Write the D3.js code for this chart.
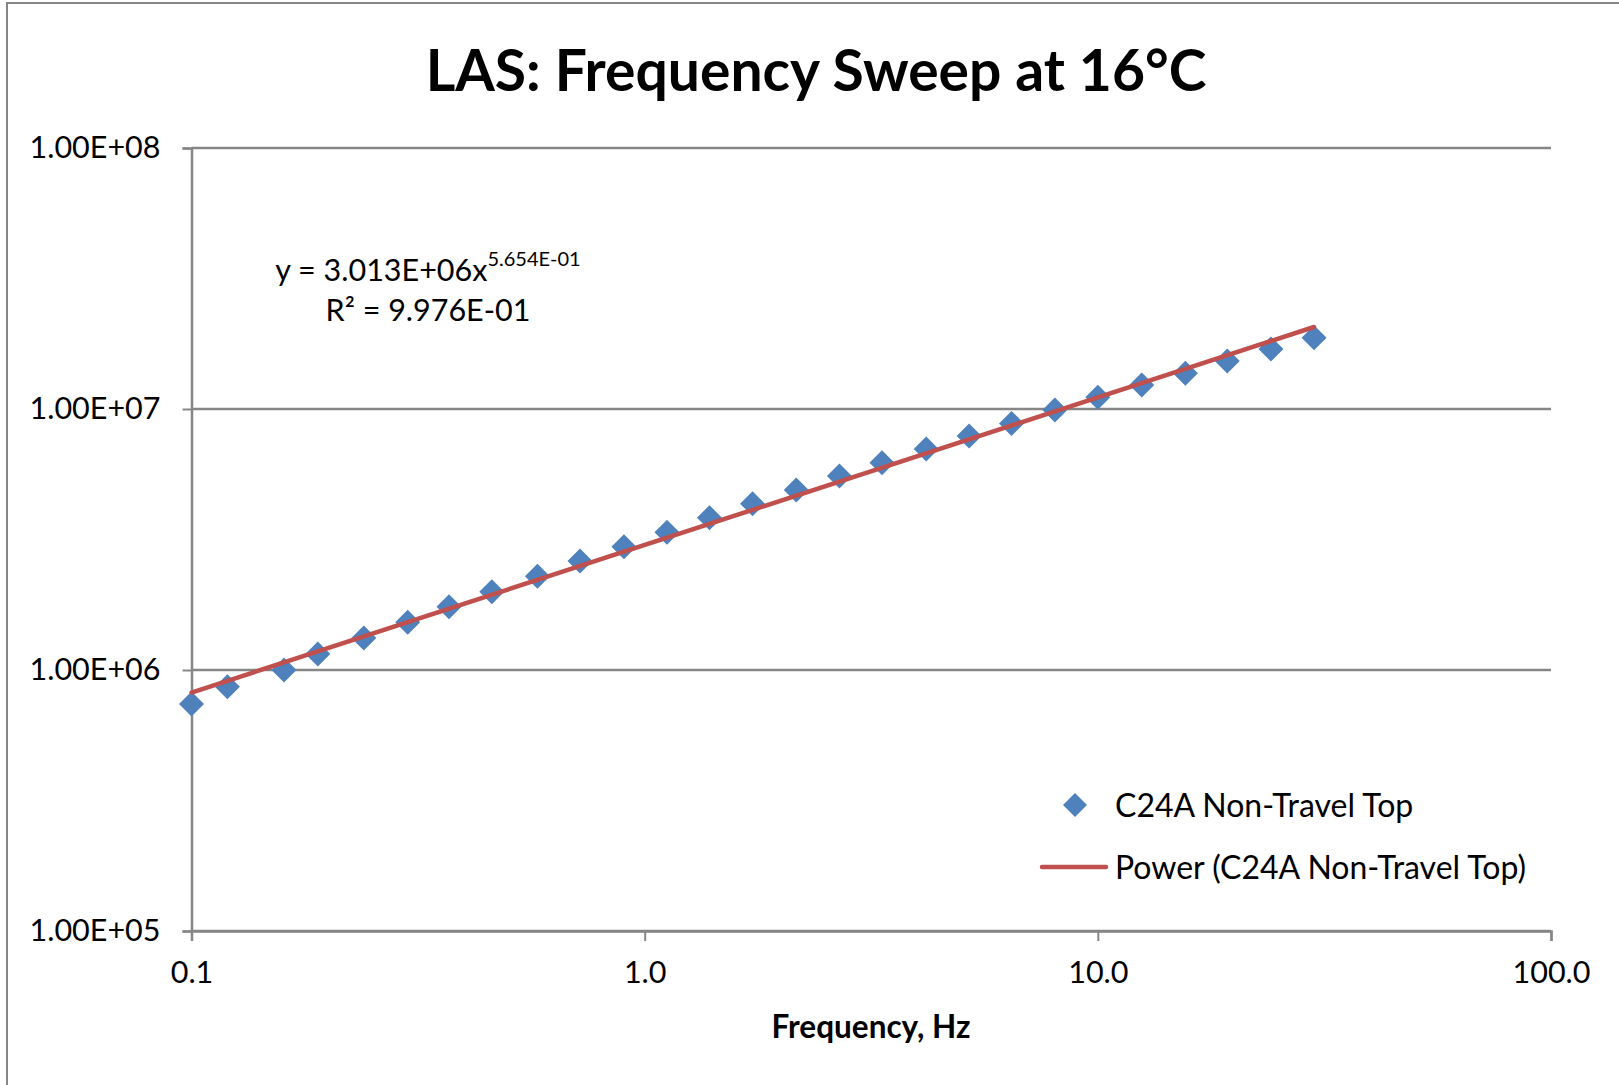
<!DOCTYPE html>
<html>
<head>
<meta charset="utf-8">
<script src="https://cdn.jsdelivr.net/npm/d3@7"></script>
<style>
  body { margin: 0; background: #fff; }
  text { font-family: Lato, "Open Sans", sans-serif; fill: #000; }
</style>
</head>
<body>
<div id="chart"></div>
<script>
// data
var freq = [0.1, 0.12, 0.16, 0.19, 0.24, 0.30, 0.37, 0.46, 0.58, 0.72, 0.90,
            1.12, 1.39, 1.73, 2.16, 2.69, 3.34, 4.18, 5.20, 6.45, 8.04,
            10.0, 12.5, 15.6, 19.3, 24.1, 30.0];
var modulus = [7.41e5, 8.63e5, 1.00e6, 1.152e6, 1.326e6, 1.523e6, 1.748e6, 1.995e6, 2.286e6, 2.616e6, 2.968e6,
               3.37e6, 3.832e6, 4.337e6, 4.895e6, 5.538e6, 6.228e6, 7.027e6, 7.88e6, 8.808e6, 9.91e6,
               1.109e7, 1.236e7, 1.370e7, 1.527e7, 1.698e7, 1.876e7];
var xTicks = [0.1, 1, 10, 100];
var yTicks = [1e5, 1e6, 1e7, 1e8];
var seriesName = "C24A Non-Travel Top";
var trendName = "Power (C24A Non-Travel Top)";
// power trendline coefficients as printed on the chart
var fitA = 3.013e6, fitB = 0.5654, fitR2 = 0.9976;

var W = 1619, H = 1085;
var margin = {top: 148, right: 68, bottom: 154, left: 191.5},
    width = W - margin.left - margin.right,
    height = H - margin.top - margin.bottom;

var grey = "#868686", blue = "#4F81BD", red = "#C0504D";

var svg = d3.select("#chart").append("svg")
    .attr("width", W)
    .attr("height", H);

// outer chart frame
svg.append("rect")
    .attr("x", 7).attr("y", 3)
    .attr("width", W + 20).attr("height", H + 20)
    .attr("fill", "#fff")
    .attr("stroke", grey)
    .attr("stroke-width", 2);

var g = svg.append("g")
    .attr("transform", "translate(" + margin.left + "," + margin.top + ")");

var x = d3.scaleLog().domain([0.1, 100]).range([0, width]);
var y = d3.scaleLog().domain([1e5, 1e8]).range([height, 0]);

// title
svg.append("text")
    .attr("x", 816)
    .attr("y", 91)
    .attr("text-anchor", "middle")
    .style("font-size", "57px")
    .style("font-weight", "bold")
    .text("LAS: Frequency Sweep at 16\u00B0C");

// gridlines
g.selectAll(".grid")
    .data(yTicks)
  .enter().append("line")
    .attr("class", "grid")
    .attr("x1", 0).attr("x2", width)
    .attr("y1", function(d){ return y(d); })
    .attr("y2", function(d){ return y(d); })
    .attr("stroke", grey)
    .attr("stroke-width", 2.5);

// axes
var xAxis = d3.axisBottom(x)
    .tickValues(xTicks)
    .tickSize(10)
    .tickPadding(20)
    .tickFormat(d3.format(".1f"));
var yAxis = d3.axisLeft(y)
    .tickValues(yTicks)
    .tickSize(9)
    .tickPadding(22)
    .tickFormat(function(d){
      var e = Math.round(Math.log10(d));
      return "1.00E+" + (e < 10 ? "0" + e : e);
    });

var gx = g.append("g")
    .attr("transform", "translate(0," + height + ")")
    .call(xAxis);
var gy = g.append("g").call(yAxis);

[gx, gy].forEach(function(a){
  a.select(".domain").attr("stroke", grey).attr("stroke-width", 2.5);
  a.selectAll(".tick line").attr("stroke", grey).attr("stroke-width", 2);
  a.selectAll(".tick text")
    .style("font-size", "30.5px")
    .style("font-family", "Lato, 'Open Sans', sans-serif")
    .attr("fill", "#000");
});
gx.selectAll(".tick text").attr("dy", "0.71em");

// x axis title
svg.append("text")
    .attr("x", 871)
    .attr("y", 1038)
    .attr("text-anchor", "middle")
    .style("font-size", "31.5px")
    .style("font-weight", "bold")
    .text("Frequency, Hz");

// trendline
var xMin = d3.min(freq), xMax = d3.max(freq);
var line = d3.line()
    .x(function(d){ return x(d); })
    .y(function(d){ return y(fitA * Math.pow(d, fitB)); });

// diamond markers
function diamond(r){
  return "M0," + (-r) + "L" + r + ",0L0," + r + "L" + (-r) + ",0Z";
}
var pts = freq.map(function(f, i){ return {f: f, v: modulus[i]}; });
g.selectAll(".point")
    .data(pts)
  .enter().append("path")
    .attr("class", "point")
    .attr("d", diamond(12.5))
    .attr("transform", function(d){ return "translate(" + x(d.f) + "," + y(d.v) + ")"; })
    .attr("fill", blue);

// trendline drawn on top of the markers
g.append("path")
    .datum([xMin, xMax])
    .attr("d", line)
    .attr("fill", "none")
    .attr("stroke", red)
    .attr("stroke-width", 4.5)
    .attr("stroke-linecap", "round");

// trendline equation
var eq = svg.append("text")
    .attr("x", 428)
    .attr("y", 281)
    .attr("text-anchor", "middle")
    .style("font-size", "30.5px");
eq.append("tspan").text("y = " + fitA.toExponential(3).toUpperCase().replace("E+", "E+0") + "x");
eq.append("tspan")
    .attr("dy", -15)
    .style("font-size", "20px")
    .text(fitB.toExponential(3).toUpperCase().replace("E-", "E-0"));
svg.append("text")
    .attr("x", 428)
    .attr("y", 321)
    .attr("text-anchor", "middle")
    .style("font-size", "30.5px")
    .text("R\u00B2 = " + fitR2.toExponential(3).toUpperCase().replace("E-", "E-0"));

// legend
var lg = svg.append("g");
lg.append("path")
    .attr("d", diamond(12))
    .attr("transform", "translate(1075,805)")
    .attr("fill", blue);
lg.append("text")
    .attr("x", 1115).attr("y", 817)
    .style("font-size", "32px")
    .text(seriesName);
lg.append("line")
    .attr("x1", 1042).attr("x2", 1106)
    .attr("y1", 867).attr("y2", 867)
    .attr("stroke", red)
    .attr("stroke-width", 4.5)
    .attr("stroke-linecap", "round");
lg.append("text")
    .attr("x", 1115).attr("y", 879)
    .style("font-size", "32px")
    .text(trendName);
</script>
</body>
</html>
